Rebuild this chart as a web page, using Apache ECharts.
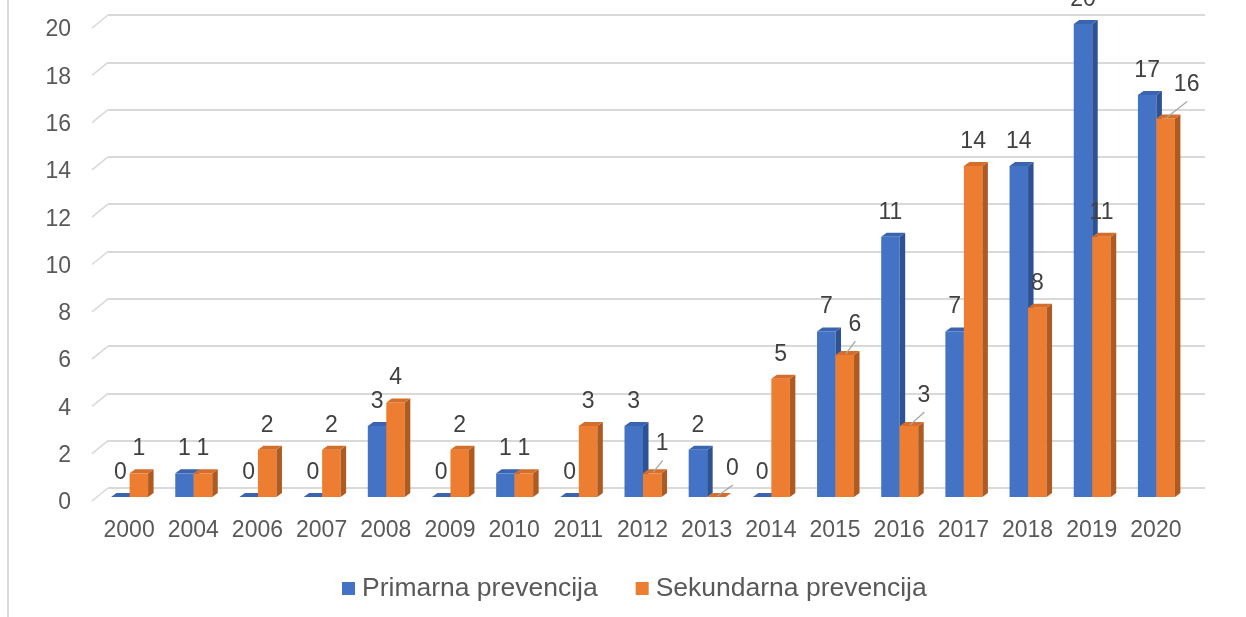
<!DOCTYPE html>
<html>
<head>
<meta charset="utf-8">
<script src="https://cdn.jsdelivr.net/npm/echarts@6/dist/echarts.min.js"></script>
<style>
html,body{margin:0;padding:0;background:#fff;}
#chart{width:1246px;height:617px;}
</style>
</head>
<body>
<div id="chart"></div>
<script>
// ---- data ----
const years = ['2000','2004','2006','2007','2008','2009','2010','2011','2012','2013','2014','2015','2016','2017','2018','2019','2020'];
const primarna = [0,1,0,0,3,0,1,0,3,2,0,7,11,7,14,20,17];
const sekundarna = [1,1,2,2,4,2,1,3,1,0,5,6,3,14,8,11,16];
const yTicks = [0,2,4,6,8,10,12,14,16,18,20];
const seriesNames = ['Primarna prevencija','Sekundarna prevencija'];

// ---- style ----
const FONT = "'Liberation Sans', Arial, sans-serif";
const palette = [
  {front:'#4472C4', side:'#2E5394', top:'#3A64B0'},
  {front:'#ED7D31', side:'#AE5A21', top:'#D46E2A'}
];
// label nudges (Excel-like callouts) per series: index -> [dx, dy]
const labelNudge = [
  {},
  {8:[10,-5], 9:[16,-4], 11:[10,-6], 12:[15,-6], 16:[21,-9]}
];
const BW = 18.5, BD = 5.5, BH = 4;

function makeRender(sIdx){
  const pal = palette[sIdx];
  return function(params, api){
    const ci = api.value(0), v = api.value(1);
    const base = api.coord([ci, 0]);
    const tp = api.coord([ci, v]);
    const cx = base[0] + 0.5;
    const x0 = sIdx === 0 ? cx - BW : cx;
    const yT = tp[1], yB = base[1];
    const children = [];
    if (yB - yT > 0.1) {
      children.push({type:'rect', shape:{x:x0, y:yT, width:BW, height:yB-yT}, style:{fill:pal.front}});
      children.push({type:'polygon', shape:{points:[[x0+BW,yT],[x0+BW+BD,yT-BH],[x0+BW+BD,yB-BH],[x0+BW,yB]]}, style:{fill:pal.side}});
    }
    children.push({type:'polygon', shape:{points:[[x0,yT],[x0+BD,yT-BH],[x0+BW+BD,yT-BH],[x0+BW,yT]]}, style:{fill:pal.top}});
    const lcx = x0 + BW/2;
    let lx = lcx, ly = yT - 24.5;
    const nd = labelNudge[sIdx][ci];
    if (nd) {
      lx += nd[0]; ly += nd[1];
      children.push({type:'line', shape:{x1:lcx+1, y1:yT-1, x2:lx+0.5, y2:ly+16.5}, style:{stroke:'#A6A6A6', lineWidth:1.3}});
    }
    children.push({type:'text', style:{text:String(v), x:lx, y:ly, align:'center', verticalAlign:'middle', font:'23px ' + FONT, fill:'#404040'}});
    return {type:'group', children};
  };
}

// floor-edge slash and value label for each y tick
function tickRender(params, api){
  const v = api.value(0);
  const p = api.coord([0, v]);
  const x = params.coordSys.x;
  return {type:'group', children:[
    {type:'line', shape:{x1:x-16, y1:p[1]+13, x2:x, y2:p[1]}, style:{stroke:'#D9D9D9', lineWidth:1.6}},
    {type:'text', style:{text:String(v), x:x-37, y:p[1]+15, align:'right', verticalAlign:'middle', font:'23px ' + FONT, fill:'#595959'}}
  ]};
}

const chart = echarts.init(document.getElementById('chart'), null, {renderer:'canvas'});
chart.setOption({
  animation:false,
  backgroundColor:'#fff',
  textStyle:{fontFamily:FONT},
  graphic:[{type:'line', shape:{x1:8, y1:0, x2:8, y2:617}, style:{stroke:'#D9D9D9', lineWidth:2}, z:-1}],
  grid:[
    {left:97, right:58, top:24, height:473},
    {left:108, right:41, top:15, height:473}
  ],
  xAxis:[
    {gridIndex:0, type:'category', data:years, axisLine:{show:false}, axisTick:{show:false},
     axisLabel:{interval:0, margin:22, fontSize:23, color:'#595959', fontFamily:FONT}},
    {gridIndex:1, type:'category', data:years, show:false}
  ],
  yAxis:[
    {gridIndex:0, type:'value', min:0, max:20, interval:2, splitLine:{show:false}, axisLine:{show:false}, axisTick:{show:false},
     axisLabel:{show:false}},
    {gridIndex:1, type:'value', min:0, max:20, interval:2, axisLabel:{show:false}, axisLine:{show:false}, axisTick:{show:false},
     splitLine:{show:true, lineStyle:{color:'#D9D9D9', width:2}}}
  ],
  legend:{
    left:337, top:570, itemWidth:13, itemHeight:13, itemGap:38, icon:'rect',
    textStyle:{fontSize:26.5, color:'#595959', fontFamily:FONT, padding:[0,0,0,2]},
    data:seriesNames
  },
  series:[
    {name:seriesNames[0], type:'custom', xAxisIndex:0, yAxisIndex:0, renderItem:makeRender(0),
     itemStyle:{color:palette[0].front}, encode:{x:0, y:1}, data:primarna.map((v,i)=>[i,v]), z:3},
    {name:seriesNames[1], type:'custom', xAxisIndex:0, yAxisIndex:0, renderItem:makeRender(1),
     itemStyle:{color:palette[1].front}, encode:{x:0, y:1}, data:sekundarna.map((v,i)=>[i,v]), z:4},
    {type:'custom', xAxisIndex:1, yAxisIndex:1, renderItem:tickRender, silent:true,
     encode:{y:0}, data:yTicks.map(v=>[v]), z:1}
  ]
});
</script>
</body>
</html>
